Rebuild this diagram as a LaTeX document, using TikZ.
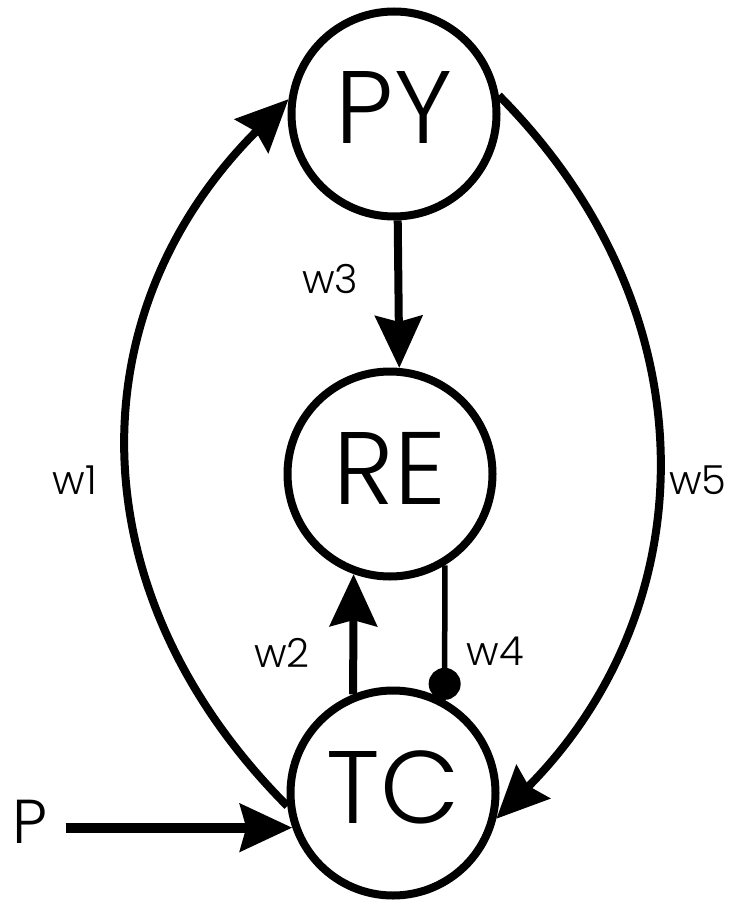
\documentclass[tikz,border=0pt]{standalone}
\usepackage{fontspec}
\setmainfont{Poppins}[UprightFont=* Light]
\usetikzlibrary{arrows.meta,calc}
\begin{document}
\begin{tikzpicture}[x=1pt,y=-1pt,
  state/.style={circle,draw,line width=8pt,minimum size=205pt,inner sep=0pt,font=\fontsize{103}{103}\selectfont},
  lbl/.style={inner sep=0pt,font=\fontsize{40}{40}\selectfont},
  conn/.style={line width=8pt,-{Stealth[length=52pt,width=47pt,inset=6pt]}},
  inh/.style={line width=5.5pt,-{Circle[length=32pt]}},
]
\useasboundingbox (0,0) rectangle (729,901);
\node[state] (PY) at (394,114) {\raisebox{13pt}{PY}};
\node[state] (RE) at (390,474) {\raisebox{12pt}{RE}};
\node[state] (TC) at (393,793) {\raisebox{12pt}{TC}};
\node[lbl] (w1) at (75,480) {w1};
\node[lbl] (w2) at (282,653) {w2};
\node[lbl] (w3) at (330,279) {w3};
\node[lbl] (w4) at (495,651) {w4};
\node[lbl] (w5) at (698,480) {w5};
\node[inner sep=0pt,font=\fontsize{62}{62}\selectfont] (P) at (30,822) {P};
\draw[conn] (PY.272) -- (RE.85.5);
\draw[conn] (TC.112) -- (RE.250);
\draw[inh] (RE.301) -- (TC.61);
\draw[conn] (TC.187) .. controls (75,593) and (75,312) .. (PY.172);
\draw[conn] (PY.10) .. controls (715,313) and (705,609) .. (TC.-14);
\draw[line width=10pt,-{Stealth[length=52pt,width=47pt,inset=6pt]}] ($(P.east |- TC.199)+(18,0)$) -- (TC.199);
\end{tikzpicture}
\end{document}
